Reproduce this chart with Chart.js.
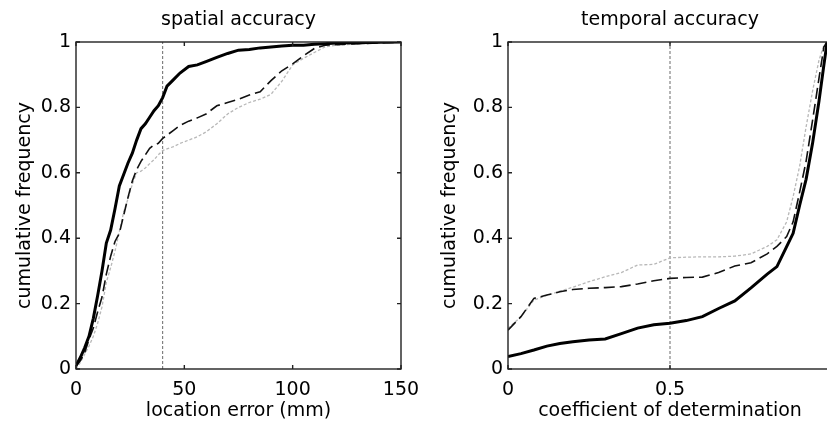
<!DOCTYPE html>
<html>
<head>
<meta charset="utf-8">
<script src="https://cdn.jsdelivr.net/npm/chart.js@4.4.1/dist/chart.umd.min.js"></script>
<style>
  html, body { margin: 0; padding: 0; overflow: hidden; background: #fff; width: 827px; height: 429px; }
  canvas { position: absolute; top: 0; }
  #c1 { left: 0; }
  #c2 { left: 420px; }
</style>
</head>
<body>
<canvas id="c1" width="420" height="429" style="width:420px;height:429px"></canvas>
<canvas id="c2" width="420" height="429" style="width:420px;height:429px"></canvas>
<script>
// ---- spatial accuracy (left panel) ----
const spatialTitle = 'spatial accuracy';
const spatialXLabel = 'location error (mm)';
const spatialError = [0, 2, 4, 6, 8, 10, 12, 14, 16, 18, 20, 22, 24, 26, 28, 30, 32, 34, 36, 38, 40, 42, 45, 48, 52, 56, 60, 65, 70, 75, 80, 85, 90, 95, 100, 105, 110, 115, 120, 130, 140, 150];
const spatialSolid = [0.01, 0.035, 0.065, 0.10, 0.155, 0.225, 0.30, 0.385, 0.425, 0.49, 0.56, 0.595, 0.63, 0.66, 0.70, 0.735, 0.75, 0.77, 0.79, 0.805, 0.83, 0.865, 0.885, 0.905, 0.925, 0.93, 0.94, 0.953, 0.965, 0.975, 0.977, 0.982, 0.985, 0.988, 0.99, 0.99, 0.993, 0.995, 0.997, 0.998, 0.999, 1];
const spatialDashed = [0.01, 0.025, 0.05, 0.09, 0.125, 0.175, 0.22, 0.29, 0.345, 0.39, 0.415, 0.47, 0.525, 0.575, 0.61, 0.635, 0.655, 0.675, 0.685, 0.69, 0.705, 0.715, 0.73, 0.745, 0.758, 0.768, 0.78, 0.805, 0.815, 0.825, 0.838, 0.848, 0.882, 0.912, 0.933, 0.958, 0.98, 0.99, 0.992, 0.995, 0.997, 1];
const spatialDotted = [0.0, 0.02, 0.045, 0.07, 0.10, 0.14, 0.19, 0.265, 0.31, 0.36, 0.42, 0.48, 0.52, 0.565, 0.60, 0.605, 0.615, 0.628, 0.64, 0.655, 0.668, 0.673, 0.68, 0.69, 0.70, 0.71, 0.725, 0.75, 0.78, 0.80, 0.815, 0.825, 0.84, 0.88, 0.93, 0.95, 0.968, 0.985, 0.99, 0.994, 0.997, 1];
const spatialThreshold = 40;
const spatialXTicks = [0, 50, 100, 150];

// ---- temporal accuracy (right panel) ----
const temporalTitle = 'temporal accuracy';
const temporalXLabel = 'coefficient of determination';
const temporalR2 = [0, 0.04, 0.08, 0.12, 0.16, 0.2, 0.25, 0.3, 0.35, 0.4, 0.45, 0.5, 0.55, 0.6, 0.65, 0.7, 0.75, 0.8, 0.83, 0.86, 0.88, 0.9, 0.92, 0.94, 0.96, 0.975, 0.985, 1];
const temporalSolid = [0.038, 0.047, 0.058, 0.07, 0.078, 0.083, 0.089, 0.092, 0.108, 0.125, 0.135, 0.14, 0.148, 0.16, 0.185, 0.208, 0.248, 0.29, 0.313, 0.374, 0.415, 0.5, 0.58, 0.69, 0.82, 0.93, 1, 1];
const temporalDashed = [0.119, 0.16, 0.216, 0.226, 0.236, 0.243, 0.247, 0.249, 0.252, 0.26, 0.27, 0.277, 0.28, 0.281, 0.295, 0.315, 0.325, 0.352, 0.375, 0.405, 0.45, 0.54, 0.635, 0.76, 0.89, 0.985, 1, 1];
const temporalDotted = [0.124, 0.16, 0.211, 0.225, 0.238, 0.25, 0.267, 0.282, 0.295, 0.318, 0.32, 0.34, 0.342, 0.343, 0.343, 0.345, 0.352, 0.375, 0.395, 0.45, 0.527, 0.62, 0.74, 0.85, 0.945, 0.99, 1, 1];
const temporalThreshold = 0.5;
const temporalXTicks = [0, 0.5, 1];

// ---- shared ----
const yLabel = 'cumulative frequency';
const yTicks = [0, 0.2, 0.4, 0.6, 0.8, 1];

const FONT = 'DejaVu Sans';
const FS = 19;
const boxPlugin = {
  id: 'matlabBox',
  afterLayout(chart) {
    const t = chart.titleBlock;
    if (t) { t.left = chart.chartArea.left; t.right = chart.chartArea.right; }
  },
  afterDatasetsDraw(chart) {
    const { ctx, chartArea: a, scales: { x, y } } = chart;
    const L = 4;
    ctx.save();
    ctx.strokeStyle = '#222';
    ctx.lineWidth = 1.4;
    ctx.setLineDash([]);
    ctx.strokeRect(a.left, a.top, a.right - a.left, a.bottom - a.top);
    ctx.beginPath();
    x.ticks.forEach(t => {
      const p = x.getPixelForValue(t.value);
      ctx.moveTo(p, a.bottom); ctx.lineTo(p, a.bottom - L);
      ctx.moveTo(p, a.top); ctx.lineTo(p, a.top + L);
    });
    y.ticks.forEach(t => {
      const p = y.getPixelForValue(t.value);
      ctx.moveTo(a.left, p); ctx.lineTo(a.left + L, p);
      ctx.moveTo(a.right, p); ctx.lineTo(a.right - L, p);
    });
    ctx.stroke();
    ctx.restore();
  }
};

function pts(xs, ys) { return xs.map((v, i) => ({ x: v, y: ys[i] })); }

function makeChart(id, cfg) {
  return new Chart(document.getElementById(id), {
    type: 'line',
    data: {
      datasets: [
        { data: pts(cfg.xs, cfg.solid), borderColor: '#000', borderWidth: 3, pointRadius: 0, tension: 0, fill: false },
        { data: pts(cfg.xs, cfg.dashed), borderColor: '#111', borderWidth: 1.6, borderDash: [11, 5], pointRadius: 0, tension: 0, fill: false },
        { data: pts(cfg.xs, cfg.dotted), borderColor: '#b8b8b8', borderWidth: 1.3, borderDash: [3, 2], pointRadius: 0, tension: 0, fill: false },
        { data: [{ x: cfg.threshold, y: 0 }, { x: cfg.threshold, y: 1 }], borderColor: '#6a6a6a', borderWidth: 1, borderDash: [3, 2], pointRadius: 0, fill: false }
      ]
    },
    options: {
      responsive: false,
      animation: false,
      events: [],
      layout: { padding: { left: 0, right: cfg.padRight, top: 0, bottom: 0 } },
      plugins: {
        legend: { display: false },
        tooltip: { enabled: false },
        title: {
          display: true, text: cfg.title, color: '#000',
          font: { family: FONT, size: FS, weight: 'normal', lineHeight: 1.2 },
          padding: { top: 9, bottom: 10.2 }
        }
      },
      scales: {
        x: {
          type: 'linear', min: cfg.xMin, max: cfg.xMax,
          afterBuildTicks: s => { s.ticks = cfg.xTicks.map(v => ({ value: v })); },
          afterFit: s => { s.height = 60; s.paddingLeft = 0; s.paddingRight = 0; },
          grid: { display: false, drawTicks: false },
          border: { display: false },
          ticks: { color: '#000', padding: 10, maxRotation: 0, autoSkip: false,
                   font: { family: FONT, size: FS }, callback: v => String(v) },
          title: { display: true, text: cfg.xLabel, color: '#000',
                   font: { family: FONT, size: FS, lineHeight: 1.2 }, padding: { top: 0, bottom: 6.6 } }
        },
        y: {
          type: 'linear', min: 0, max: 1,
          afterBuildTicks: s => { s.ticks = yTicks.map(v => ({ value: v })); },
          afterFit: s => { s.width = cfg.yWidth; s.paddingTop = 0; s.paddingBottom = 0; },
          grid: { display: false, drawTicks: false },
          border: { display: false },
          ticks: { color: '#000', padding: 5, autoSkip: false,
                   font: { family: FONT, size: FS }, callback: v => String(v) },
          title: { display: true, text: yLabel, color: '#000',
                   font: { family: FONT, size: FS, lineHeight: 1.2 }, padding: { top: cfg.yTitlePad, bottom: 0 } }
        }
      }
    },
    plugins: [boxPlugin]
  });
}

makeChart('c1', {
  title: spatialTitle, xLabel: spatialXLabel, xs: spatialError,
  solid: spatialSolid, dashed: spatialDashed, dotted: spatialDotted,
  threshold: spatialThreshold, xTicks: spatialXTicks, xMin: 0, xMax: 150,
  padRight: 19, yWidth: 76, yTitlePad: 13.6
});
makeChart('c2', {
  title: temporalTitle, xLabel: temporalXLabel, xs: temporalR2,
  solid: temporalSolid, dashed: temporalDashed, dotted: temporalDotted,
  threshold: temporalThreshold, xTicks: temporalXTicks, xMin: 0, xMax: 1,
  padRight: 8, yWidth: 88, yTitlePad: 18.6
});
</script>
</body>
</html>
